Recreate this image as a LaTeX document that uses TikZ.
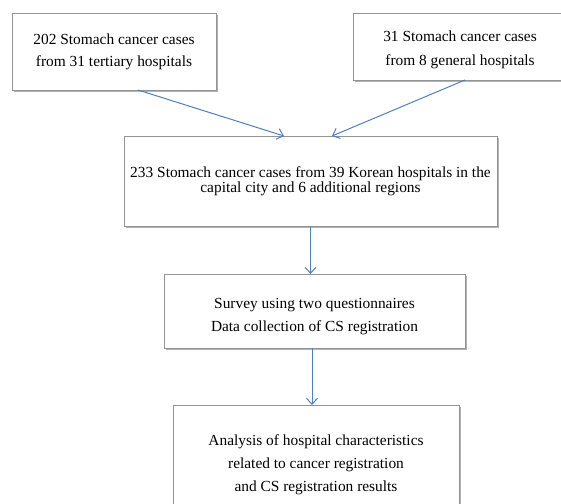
\documentclass[tikz,border=0pt]{standalone}
\usepackage{fontspec}
\setmainfont{Liberation Serif}
\usetikzlibrary{arrows.meta,shadows}
\definecolor{arrowblue}{RGB}{79,129,189}
\begin{document}
\begin{tikzpicture}[x=1pt,y=-1pt,
  box/.style={draw=black!42, line width=0.9pt, fill=white, inner sep=0pt, outer sep=0pt,
    align=center,
    drop shadow={shadow xshift=2.2pt, shadow yshift=-2.2pt, fill=black!50, opacity=0.6}},
  flow/.style={draw=arrowblue, line width=1pt, -{Straight Barb[length=6pt,width=11pt]}}]
\clip (0,0) rectangle (561,503);
\fill[white] (0,0) rectangle (561,503);
\node[box, minimum width=204pt, minimum height=77pt, font={\fontsize{15.4}{22}\selectfont}] (A) at (114,51.5)
  {202 Stomach cancer cases\\from 31 tertiary hospitals};
\node[box, minimum width=214pt, minimum height=67pt, font={\fontsize{15.4}{24}\selectfont}] (B) at (460,46.5)
  {\rule{0pt}{17pt}31 Stomach cancer cases\\from 8 general hospitals};
\node[box, minimum width=373pt, minimum height=90pt, font={\fontsize{15.4}{15}\selectfont}] (C) at (310.5,181)
  {233 Stomach cancer cases from 39 Korean hospitals in the\\capital city and 6 additional regions};
\node[box, minimum width=301pt, minimum height=74pt, font={\fontsize{15.4}{23.5}\selectfont}] (D) at (314.5,311)
  {\rule{0pt}{21pt}Survey using two questionnaires\\Data collection of CS registration};
\node[box, minimum width=286pt, minimum height=120pt, font={\fontsize{15.4}{23}\selectfont}] (E) at (316,465)
  {Analysis of hospital characteristics\\related to cancer registration\\and CS registration results};
\draw[flow] ([xshift=24pt]A.south) -- ([xshift=-26.5pt]C.north);
\draw[flow] ([xshift=5pt]B.south) -- ([xshift=21.5pt]C.north);
\draw[flow] (C.south) -- (C.south |- D.north);
\draw[flow] ([xshift=-2.5pt]D.south) -- ([xshift=-2.5pt]D.south |- E.north);
\end{tikzpicture}
\end{document}
